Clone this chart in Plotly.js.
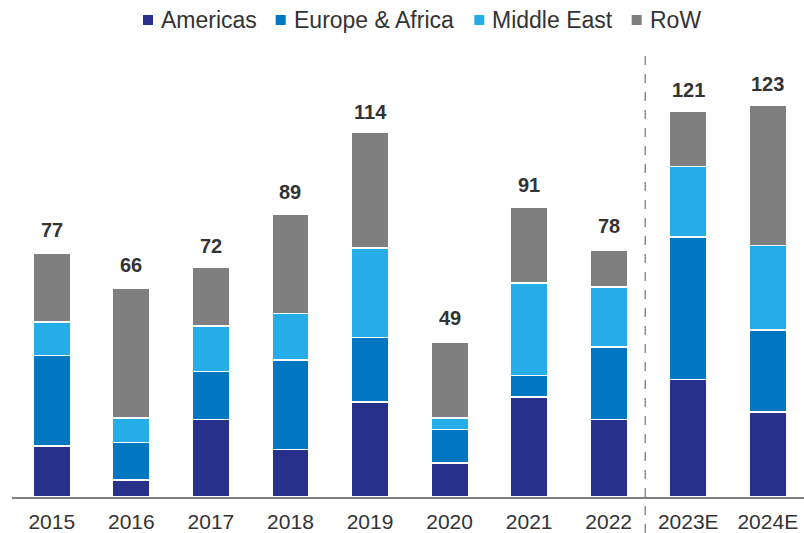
<!DOCTYPE html>
<html>
<head>
<meta charset="utf-8">
<script src="https://cdn.plot.ly/plotly-3.0.1.min.js"></script>
<style>html,body{margin:0;padding:0;background:#fff;}#chart{width:804px;height:533px;}</style>
</head>
<body>
<div id="chart"></div>
<script>
var years = ["2015","2016","2017","2018","2019","2020","2021","2022","2023E","2024E"];
var americas = [16, 5.4, 24.5, 15, 30, 10.7, 31.5, 24.5, 37.1, 26.8];
var europeAfrica = [28.6, 11.8, 15, 28.1, 20.3, 10.5, 6.8, 22.8, 44.9, 25.8];
var middleEast = [10.6, 7.7, 14.4, 14.8, 28.1, 3.7, 29.2, 18.9, 22.1, 26.6];
var row = [21.7, 40.9, 18.4, 31.1, 36.6, 23.9, 23.7, 11.6, 17.4, 44.2];
var totals = [77, 66, 72, 89, 114, 49, 91, 78, 121, 123];
var seriesNames = ["Americas", "Europe & Africa", "Middle East", "RoW"];
var seriesColors = ["#27318b", "#0077c0", "#26ace6", "#7f7f7f"];

var W = 804, H = 533, M = {l:12, r:0, t:40, b:36};
var PW = W - M.l - M.r, PH = H - M.t - M.b;
function px2x(px){ return (px - M.l) / PW; }
function px2y(py){ return (H - M.b - py) / PH; }

var seriesVals = [americas, europeAfrica, middleEast, row];
var data = seriesVals.map(function(vals, k){
  return {type:"bar", name:seriesNames[k], x:years, y:vals,
    marker:{color:seriesColors[k], line:{color:"#ffffff", width:1.5}},
    hoverinfo:"y+name", showlegend:false};
});

var FONT = "Liberation Sans, Arial, sans-serif";
var annotations = totals.map(function(t,i){
  return {xref:"x", yref:"y", x:i, y:t, text:"<b>"+t+"</b>", showarrow:false,
    yanchor:"bottom", yshift:10, font:{family:FONT, size:20, color:"#333333"}};
});

// custom legend (positions in pixels)
var legendMarkerLeft = [143, 275.7, 474.3, 631.7];
var shapes = [];
seriesNames.forEach(function(n,k){
  var x0 = legendMarkerLeft[k];
  shapes.push({type:"rect", xref:"paper", yref:"paper",
    x0:px2x(x0), x1:px2x(x0+10), y0:px2y(25), y1:px2y(15),
    fillcolor:seriesColors[k], line:{width:0}});
  annotations.push({xref:"paper", yref:"paper", x:px2x(x0+16), y:px2y(20),
    xanchor:"left", yanchor:"middle", text:n, showarrow:false,
    font:{family:FONT, size:23, color:"#333333"}});
});
shapes.push({type:"line", xref:"x", yref:"paper", x0:7.46, x1:7.46, y0:px2y(533), y1:px2y(52),
  line:{color:"#8c8c8c", width:1.5, dash:"dash"}});

var layout = {
  width:W, height:H,
  margin:M,
  barmode:"stack", bargap:0.53,
  paper_bgcolor:"#ffffff", plot_bgcolor:"#ffffff",
  font:{family:FONT, color:"#333333"},
  xaxis:{type:"category", range:[-0.5, 9.455], showgrid:false, zeroline:false,
    showline:true, linecolor:"#808080", linewidth:2, ticks:"",
    tickfont:{size:21, color:"#333333"}, ticklabelstandoff:5},
  yaxis:{range:[0,144], visible:false, showgrid:false, zeroline:false},
  showlegend:false,
  annotations:annotations,
  shapes:shapes
};
Plotly.newPlot("chart", data, layout, {displayModeBar:false, staticPlot:true});
</script>
</body>
</html>
